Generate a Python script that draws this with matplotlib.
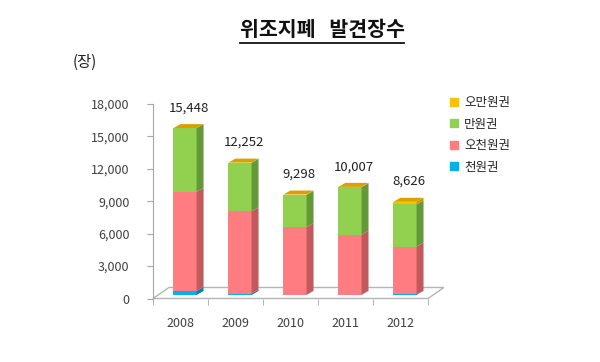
import matplotlib
matplotlib.use('Agg')
import matplotlib.pyplot as plt
import numpy as np
from matplotlib.patches import Polygon
from matplotlib.lines import Line2D
from matplotlib.ticker import FuncFormatter

plt.rcParams['font.family'] = ['Noto Sans CJK KR', 'DejaVu Sans']

years = ['2008', '2009', '2010', '2011', '2012']
totals = [15448, 12252, 9298, 10007, 8626]
cheon = [370, 130, 40, 30, 50]            # 천원권
ocheon = [9180, 7600, 6230, 5560, 4430]   # 오천원권
man = [5898, 4502, 2998, 4390, 3896]      # 만원권
oman = [0, 20, 30, 27, 250]               # 오만원권

labels = ['천원권', '오천원권', '만원권', '오만원권']
values = [cheon, ocheon, man, oman]
fronts = ['#00b0f0', '#ff7c80', '#92d050', '#ffc000']
sides = ['#0082b4', '#c25a5d', '#64993a', '#c99a00']
top_color = '#d9a000'

fig = plt.figure(figsize=(6, 3.62), dpi=100)
ax = fig.add_axes([0.255, 0.1754, 0.4583, 0.5373])
ax.set_xlim(-0.5, 4.5)
ax.set_ylim(0, 18000)

# fake 3d: offsets in data units
shift_x, shift_y = 0.082, 324     # bar front sits a bit back on the floor
depth_x, depth_y = 0.127, 370     # bar depth
floor_x, floor_y = 0.29, 1018     # floor depth
w = 0.42

floor = Polygon([(-0.5, 0), (4.5, 0), (4.5 + floor_x, floor_y), (-0.5 + floor_x, floor_y)],
                closed=True, facecolor='white', edgecolor='#b4b4b4', lw=1, clip_on=False, zorder=1)
ax.add_patch(floor)

x = np.arange(len(years))
base = np.zeros(len(years))
for lab, vals, fc, sc in zip(labels, values, fronts, sides):
    vals = np.array(vals, dtype=float)
    ax.bar(x + shift_x, vals, width=w, bottom=base + shift_y, color=fc, lw=0, zorder=3)
    for i in range(len(years)):
        if vals[i] <= 0:
            continue
        xr = x[i] + shift_x + w / 2
        y0 = base[i] + shift_y
        y1 = y0 + vals[i]
        ax.add_patch(Polygon([(xr, y0), (xr + depth_x, y0 + depth_y),
                              (xr + depth_x, y1 + depth_y), (xr, y1)],
                             closed=True, facecolor=sc, lw=0, zorder=3, clip_on=False))
    base = base + vals

for i, t in enumerate(totals):
    xl = x[i] + shift_x - w / 2
    xr = xl + w
    yt = t + shift_y
    ax.add_patch(Polygon([(xl, yt), (xr, yt), (xr + depth_x, yt + depth_y), (xl + depth_x, yt + depth_y)],
                         closed=True, facecolor=top_color, lw=0, zorder=4, clip_on=False))
    ax.annotate(f'{t:,}', (x[i] + shift_x + depth_x / 2, yt + depth_y), xytext=(0, 7),
                textcoords='offset points', ha='center', va='bottom', fontsize=9.5, color='#202020')

for s in ['top', 'right', 'bottom']:
    ax.spines[s].set_visible(False)
ax.spines['left'].set_color('#a6a6a6')

ax.set_yticks(np.arange(0, 18001, 3000))
ax.yaxis.set_major_formatter(FuncFormatter(lambda v, p: f'{int(v):,}'))
ax.tick_params(axis='y', direction='out', length=4, color='#a6a6a6', pad=13,
               labelsize=9, labelcolor='#404040')

ax.set_xticks(x)
ax.set_xticklabels(years)
ax.set_xticks(np.arange(-0.5, 4.6, 1), minor=True)
ax.tick_params(axis='x', which='major', length=0, pad=13, labelsize=9, labelcolor='#404040')
ax.tick_params(axis='x', which='minor', direction='out', length=4, color='#a6a6a6')

title = fig.text(322 / 600, 1 - 30 / 362, '위조지폐   발견장수', ha='center', va='center',
                 fontsize=14.8, fontweight='bold', color='#111111')
fig.text(85 / 600, 1 - 62 / 362, '(장)', ha='center', va='center', fontsize=11, color='#222222')

fig.canvas.draw()
bb = title.get_window_extent(fig.canvas.get_renderer())
W, H = fig.bbox.width, fig.bbox.height
uy = (bb.y0 - 2) / H
fig.add_artist(Line2D([bb.x0 / W, bb.x1 / W], [uy, uy], transform=fig.transFigure,
                      color='#111111', lw=1.3))

handles = [Line2D([], [], marker='s', ls='none', markersize=6, color=c) for c in fronts[::-1]]
fig.legend(handles, labels[::-1], loc='upper left', bbox_to_anchor=(443 / 600, 1 - 90 / 362),
           frameon=False, fontsize=9, handlelength=0.8, handletextpad=0.4,
           labelspacing=0.68, borderpad=0, labelcolor='#222222')

fig.savefig('out.png', dpi=100)
